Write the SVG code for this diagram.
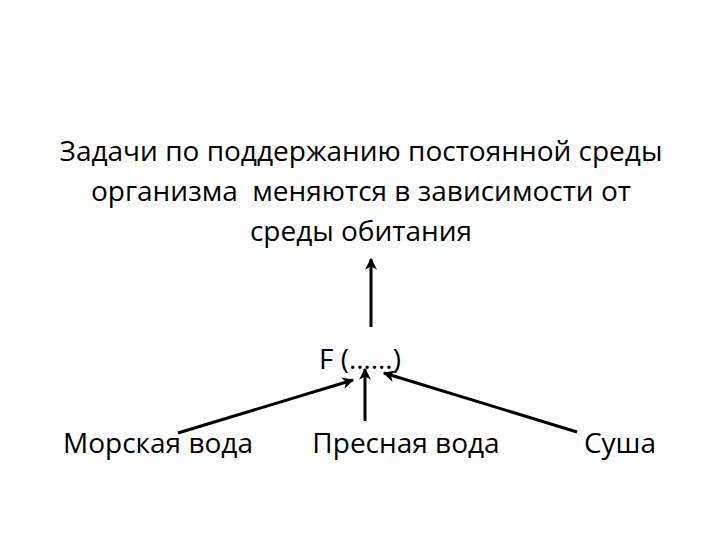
<svg xmlns="http://www.w3.org/2000/svg" width="720" height="540" viewBox="0 0 720 540">
<style>
text{font-family:"Open Sans","Liberation Sans",sans-serif;font-size:28px;fill:#000;text-anchor:middle;white-space:pre}
.c line{stroke:#000;stroke-width:3;marker-end:url(#ah)}
</style>
<defs>
<marker id="ah" viewBox="0 0 10 10" refX="9" refY="5" markerWidth="4" markerHeight="4" orient="auto" markerUnits="strokeWidth">
<path d="M0,0 L10,5 L0,10 L3,5 z" fill="#000"/>
</marker>
</defs>
<rect width="720" height="540" fill="#fff"/>
<g id="title">
<text x="361" y="161">Задачи по поддержанию постоянной среды</text>
<text x="361" y="201" xml:space="preserve">организма  меняются в зависимости от</text>
<text x="361" y="241">среды обитания</text>
</g>
<g id="f"><text x="360" y="369">F (……)</text></g>
<g id="sea"><text x="158" y="453">Морская вода</text></g>
<g id="fresh"><text x="406" y="453">Пресная вода</text></g>
<g id="land"><text x="620" y="453">Суша</text></g>
<g class="c">
<line x1="371" y1="327" x2="371" y2="259"/>
<line x1="178" y1="433" x2="353" y2="380"/>
<line x1="365" y1="421" x2="365" y2="369"/>
<line x1="577" y1="432" x2="384" y2="373"/>
</g>
</svg>
